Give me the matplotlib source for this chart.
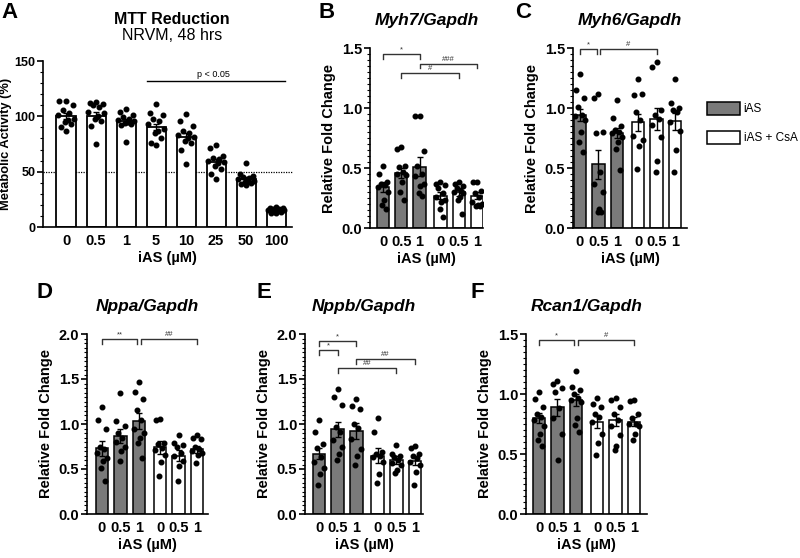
import numpy as np
import matplotlib.pyplot as plt
from matplotlib.patches import Patch
from matplotlib.ticker import MultipleLocator

plt.rcParams['font.family'] = ['Liberation Sans', 'DejaVu Sans']

# ---- data ----
mtt_doses = ['0', '0.5', '1', '5', '10', '25', '50', '100']
mtt_mean = [100.5, 100.5, 95.5, 90.5, 81.5, 59, 43.5, 15]
mtt_sem = [2.5, 3.0, 2.0, 3.0, 3.0, 2.5, 1.5, 0.5]
mtt_pts = [
    [114, 114, 110, 106, 103, 101, 98, 97, 95, 93, 90, 87],
    [113, 112, 111, 110, 108, 104, 103, 100, 98, 96, 91, 75],
    [107, 104, 101, 99, 98, 97, 96, 95, 94, 93, 92, 77],
    [111, 103, 101, 98, 96, 93, 89, 87, 85, 80, 76, 74],
    [102, 96, 91, 87, 85, 83, 81, 80, 78, 76, 70, 57],
    [74, 71, 64, 62, 61, 60, 59, 58, 55, 52, 48, 43],
    [58, 48, 46, 45, 44, 43, 42, 42, 41, 40, 39, 38],
    [18, 17, 17, 16, 16, 15, 15, 15, 14, 14, 13, 13],
]

dose_labels = ['0', '0.5', '1', '0', '0.5', '1']

myh7_mean = [0.34, 0.46, 0.51, 0.27, 0.30, 0.27]
myh7_sem = [0.04, 0.04, 0.08, 0.03, 0.03, 0.03]
myh7_pts = [
    [0.52, 0.45, 0.38, 0.37, 0.36, 0.34, 0.30, 0.23, 0.19, 0.16],
    [0.675, 0.66, 0.52, 0.51, 0.47, 0.45, 0.44, 0.38, 0.30, 0.23],
    [0.93, 0.93, 0.64, 0.52, 0.45, 0.43, 0.37, 0.35, 0.29, 0.27],
    [0.38, 0.37, 0.36, 0.33, 0.29, 0.26, 0.23, 0.22, 0.16, 0.09],
    [0.38, 0.37, 0.35, 0.33, 0.31, 0.30, 0.29, 0.26, 0.23, 0.12],
    [0.38, 0.38, 0.31, 0.29, 0.26, 0.22, 0.20, 0.19, 0.18, 0.18],
]
myh7_sig = [(0, 2, 1.45, '*'), (2, 5, 1.37, '###'), (1, 4, 1.29, '#')]

myh6_mean = [0.94, 0.53, 0.79, 0.88, 0.91, 0.89]
myh6_sem = [0.05, 0.12, 0.04, 0.07, 0.09, 0.07]
myh6_pts = [
    [1.28, 1.15, 1.08, 1.01, 0.94, 0.93, 0.90, 0.80, 0.72, 0.63],
    [1.12, 1.08, 0.80, 0.79, 0.47, 0.37, 0.30, 0.16, 0.13, 0.13],
    [1.07, 0.92, 0.85, 0.82, 0.80, 0.79, 0.76, 0.72, 0.66, 0.48],
    [1.24, 1.11, 1.12, 0.97, 0.90, 0.77, 0.73, 0.68, 0.49],
    [1.38, 1.34, 0.98, 0.94, 0.91, 0.86, 0.76, 0.56, 0.47],
    [1.24, 1.04, 1.00, 0.98, 0.97, 0.88, 0.81, 0.65, 0.47],
]
myh6_sig = [(0, 1, 1.49, '*'), (1, 4, 1.49, '#')]

nppa_mean = [0.73, 0.87, 1.03, 0.74, 0.65, 0.72]
nppa_sem = [0.08, 0.08, 0.09, 0.07, 0.06, 0.04]
nppa_pts = [
    [1.19, 1.05, 0.94, 0.75, 0.72, 0.68, 0.62, 0.59, 0.51, 0.37],
    [1.35, 1.03, 0.98, 0.90, 0.85, 0.80, 0.75, 0.70, 0.59],
    [1.47, 1.36, 1.28, 1.16, 1.05, 0.95, 0.90, 0.85, 0.79, 0.62],
    [1.06, 1.05, 0.79, 0.78, 0.73, 0.71, 0.66, 0.58, 0.42],
    [0.88, 0.79, 0.77, 0.75, 0.68, 0.64, 0.59, 0.53, 0.37],
    [0.88, 0.84, 0.83, 0.75, 0.72, 0.70, 0.68, 0.66, 0.57],
]
nppa_sig = [(0, 2, 1.94, '**'), (2, 5, 1.94, '##')]

nppb_mean = [0.67, 0.94, 0.92, 0.65, 0.60, 0.59]
nppb_sem = [0.06, 0.08, 0.09, 0.08, 0.04, 0.04]
nppb_pts = [
    [1.04, 0.91, 0.78, 0.73, 0.63, 0.58, 0.51, 0.45, 0.32],
    [1.39, 1.30, 1.21, 0.97, 0.91, 0.82, 0.75, 0.67, 0.60],
    [1.28, 1.20, 1.17, 1.00, 0.96, 0.83, 0.72, 0.65, 0.55],
    [1.07, 0.91, 0.69, 0.67, 0.65, 0.63, 0.58, 0.45, 0.34],
    [0.77, 0.67, 0.65, 0.63, 0.60, 0.57, 0.54, 0.49, 0.46],
    [0.76, 0.73, 0.67, 0.65, 0.62, 0.58, 0.54, 0.47, 0.32],
]
nppb_sig = [(0, 2, 1.92, '*'), (0, 1, 1.82, '*'), (2, 5, 1.72, '##'), (1, 4, 1.62, '##')]

rcan1_mean = [0.80, 0.89, 0.95, 0.77, 0.78, 0.77]
rcan1_sem = [0.04, 0.07, 0.05, 0.05, 0.05, 0.04]
rcan1_pts = [
    [1.02, 0.96, 0.89, 0.83, 0.81, 0.78, 0.73, 0.67, 0.62, 0.57],
    [1.11, 1.08, 1.05, 1.02, 0.88, 0.80, 0.67, 0.45],
    [1.19, 1.06, 1.03, 1.00, 0.97, 0.95, 0.93, 0.80, 0.74, 0.68],
    [0.97, 0.92, 0.89, 0.83, 0.81, 0.77, 0.67, 0.59, 0.49],
    [0.97, 0.95, 0.89, 0.83, 0.78, 0.73, 0.66, 0.57, 0.53],
    [0.95, 0.94, 0.83, 0.80, 0.75, 0.75, 0.73, 0.67, 0.62],
]
rcan1_sig = [(0, 2, 1.45, '*'), (2, 5, 1.45, '#')]

GREY = '#7a7a7a'
W, H = 800, 558
JIT = [0.0, -0.22, 0.22, -0.11, 0.11, -0.26, 0.26, 0.05, -0.05, 0.16, -0.16, 0.0]

fig = plt.figure(figsize=(8, 5.58), dpi=100)


def px_axes(left, right, top, bottom):
    return fig.add_axes([left / W, 1 - bottom / H, (right - left) / W, (bottom - top) / H])


def style(ax, ylab_size=10.5):
    for s in ['top', 'right']:
        ax.spines[s].set_visible(False)
    for s in ['left', 'bottom']:
        ax.spines[s].set_linewidth(1.2)
    ax.tick_params(axis='x', length=0, pad=5, labelsize=10.5)
    ax.tick_params(axis='y', which='major', length=4, width=1.2, labelsize=ylab_size, pad=1.5)
    ax.tick_params(axis='y', which='minor', length=2, width=0.8)
    for t in ax.get_xticklabels() + ax.get_yticklabels():
        t.set_fontweight('bold')


def scatter_pts(ax, x, vals, spread):
    for k, v in enumerate(vals):
        ax.plot(x + JIT[k % len(JIT)] * spread, v, 'o', color='black', ms=3.3, zorder=4)


def gene_panel(box, bar0, last, ymax, mean, sem, pts, sig, title, letter, letter_xy):
    left, right, top, bottom = box
    ax = px_axes(left, right, top, bottom)
    xs = np.array([0, 1, 2, 3.15, 4.15, 5.15])
    sp = (last - bar0) / xs[-1]
    colors = [GREY] * 3 + ['white'] * 3
    ax.bar(xs, mean, width=0.68, color=colors, edgecolor='black', linewidth=1.1, zorder=2)
    ax.errorbar(xs, mean, yerr=sem, fmt='none', ecolor='black', elinewidth=1,
                capsize=2.2, capthick=1, zorder=5)
    for x, v in zip(xs, pts):
        scatter_pts(ax, x, v, 1.0)
    # significance brackets
    ends = {}
    for i, j, y, lab in sig:
        ends[(i, y)] = ends.get((i, y), 0) + 1
        ends[(j, y)] = ends.get((j, y), 0) + 1
    tick = ymax * 0.025
    for i, j, y, lab in sig:
        x1, x2 = xs[i], xs[j]
        if ends[(i, y)] > 1:
            x1 += 0.1
        if ends[(j, y)] > 1:
            x2 -= 0.1
        ax.plot([x1, x1, x2, x2], [y - tick, y, y, y - tick], color='#333333', lw=1, zorder=3,
                clip_on=False)
        ax.text((x1 + x2) / 2, y + ymax * 0.006, lab, ha='center', va='bottom', fontsize=5.5,
                color='#333333')
    ax.set_xlim((left - bar0) / sp, (right - bar0) / sp)
    ax.set_ylim(0, ymax)
    ax.set_xticks(xs)
    ax.set_xticklabels(dose_labels)
    ax.yaxis.set_major_locator(MultipleLocator(0.5))
    ax.yaxis.set_minor_locator(MultipleLocator(0.05))
    ax.yaxis.set_major_formatter(plt.FormatStrFormatter('%.1f'))
    ax.set_ylabel('Relative Fold Change', fontsize=10.5, fontweight='bold', labelpad=4)
    ax.set_xlabel('iAS (µM)', fontsize=10.5, fontweight='bold', labelpad=2)
    style(ax)
    fig.text((left + right) / 2 / W, 1 - (top - 27) / H, title, ha='center', va='center',
             fontsize=12.5, fontweight='bold', fontstyle='italic')
    fig.text(letter_xy[0] / W, 1 - letter_xy[1] / H, letter, ha='center', va='center',
             fontsize=16, fontweight='bold')
    return ax


# ---- panel A ----
axA = px_axes(43, 292, 61, 227)
xa = np.arange(len(mtt_doses))
axA.bar(xa, mtt_mean, width=0.64, color='white', edgecolor='black', linewidth=1.3, zorder=2)
axA.errorbar(xa, mtt_mean, yerr=mtt_sem, fmt='none', ecolor='black', elinewidth=1,
             capsize=2.5, capthick=1, zorder=5)
for x, v in zip(xa, mtt_pts):
    scatter_pts(axA, x, v, 1.0)
axA.axhline(50, color='black', lw=0.9, ls=(0, (1, 1)), zorder=1, clip_on=False)
axA.plot([2.7, 7.3], [132, 132], color='black', lw=1)
axA.text(4.9, 134, 'p < 0.05', ha='center', va='bottom', fontsize=6.5)
axA.set_xlim(-0.77, 7.53)
axA.set_ylim(0, 150)
axA.set_xticks(xa)
axA.set_xticklabels(mtt_doses)
axA.yaxis.set_major_locator(MultipleLocator(50))
axA.yaxis.set_minor_locator(MultipleLocator(10))
axA.set_ylabel('Metabolic Activity (%)', fontsize=9.3, fontweight='bold', labelpad=2)
axA.set_xlabel('iAS (µM)', fontsize=10.5, fontweight='bold', labelpad=2)
style(axA, ylab_size=9)
fig.text(172 / W, 1 - 20 / H, 'MTT Reduction', ha='center', va='center', fontsize=11.5,
         fontweight='bold')
fig.text(172 / W, 1 - 36 / H, 'NRVM, 48 hrs', ha='center', va='center', fontsize=11.5)
fig.text(10 / W, 1 - 12 / H, 'A', ha='center', va='center', fontsize=16, fontweight='bold')

# ---- gene panels ----
gene_panel((370, 483, 48, 228), 383, 477, 1.5, myh7_mean, myh7_sem, myh7_pts, myh7_sig,
           'Myh7/Gapdh', 'B', (327, 12))
gene_panel((573, 687, 48, 228), 580, 675, 1.5, myh6_mean, myh6_sem, myh6_pts, myh6_sig,
           'Myh6/Gapdh', 'C', (523, 12))
gene_panel((87, 208, 334, 514), 102, 197, 2.0, nppa_mean, nppa_sem, nppa_pts, nppa_sig,
           'Nppa/Gapdh', 'D', (44, 293))
gene_panel((305, 423, 334, 514), 319, 415, 2.0, nppb_mean, nppb_sem, nppb_pts, nppb_sig,
           'Nppb/Gapdh', 'E', (264, 293))
gene_panel((526, 647, 334, 514), 539, 634, 1.5, rcan1_mean, rcan1_sem, rcan1_pts, rcan1_sig,
           'Rcan1/Gapdh', 'F', (477, 293))

# legend
handles = [Patch(facecolor=GREY, edgecolor='black', linewidth=1.1, label='iAS'),
           Patch(facecolor='white', edgecolor='black', linewidth=1.1, label='iAS + CsA')]
fig.legend(handles=handles, loc='upper left', bbox_to_anchor=(707 / W, 1 - 102 / H),
           frameon=False, fontsize=8.5, handlelength=2.8, handleheight=1.3,
           labelspacing=1.3, handletextpad=0.3, borderaxespad=0, borderpad=0)

fig.savefig('out.png', dpi=100)
